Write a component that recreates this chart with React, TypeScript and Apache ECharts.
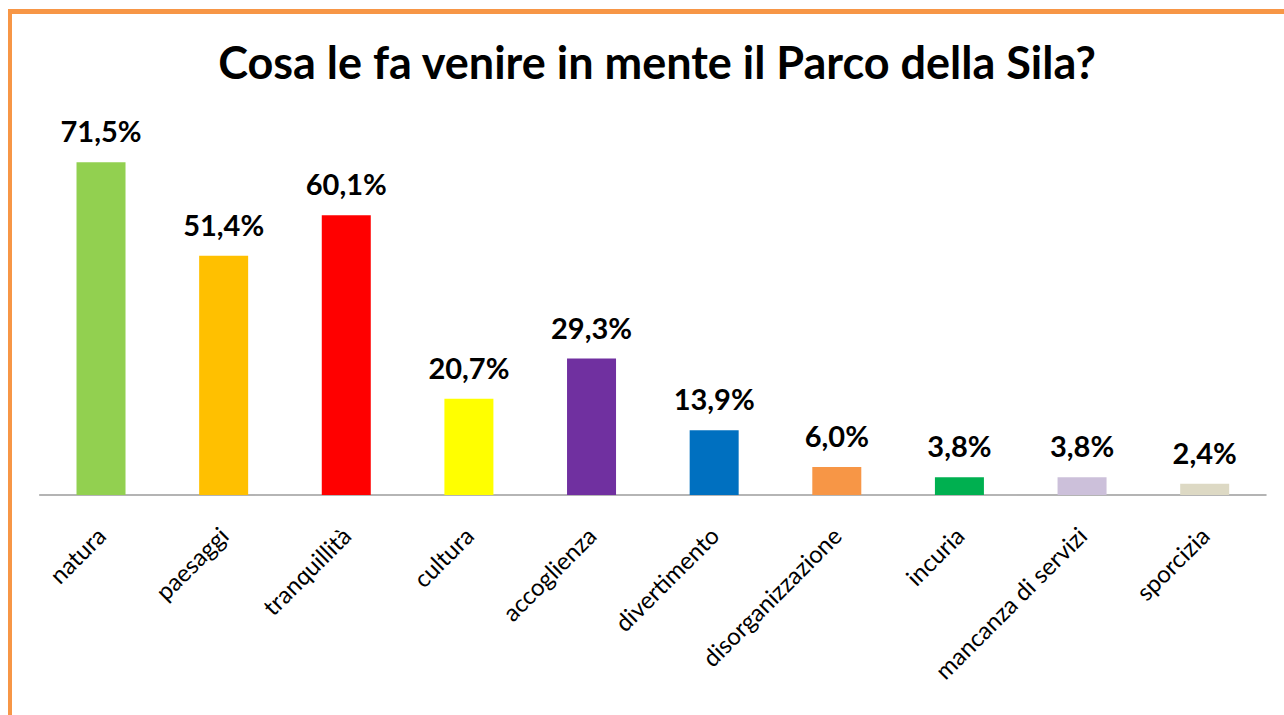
import React, { useEffect, useRef } from "react";
import * as echarts from "echarts";

const categories = [
  "natura",
  "paesaggi",
  "tranquillità",
  "cultura",
  "accoglienza",
  "divertimento",
  "disorganizzazione",
  "incuria",
  "mancanza di servizi",
  "sporcizia",
];
const values = [71.5, 51.4, 60.1, 20.7, 29.3, 13.9, 6.0, 3.8, 3.8, 2.4];
const barColors = [
  "#92D050",
  "#FFC000",
  "#FF0000",
  "#FFFF00",
  "#7030A0",
  "#0070C0",
  "#F79646",
  "#00B050",
  "#CCC0DA",
  "#DDD9C4",
];
const titleText = "Cosa le fa venire in mente il Parco della Sila?";

const FONT = "Lato, 'Open Sans', sans-serif";

export default function App() {
  const ref = useRef<HTMLDivElement>(null);
  useEffect(() => {
    if (!ref.current) return;
    const chart = echarts.init(ref.current, null, { renderer: "svg" });
    chart.setOption({
      animation: false,
      backgroundColor: "#ffffff",
      title: {
        text: titleText,
        left: 652,
        textAlign: "center",
        top: 34,
        textStyle: { fontFamily: FONT, fontSize: 45, fontWeight: "bold", color: "#000" },
      },
      graphic: [
        { type: "rect", shape: { x: 8, y: 9, width: 1276, height: 5 }, style: { fill: "#F79646" } },
        { type: "rect", shape: { x: 8, y: 9, width: 4, height: 706 }, style: { fill: "#F79646" } },
      ],
      grid: { left: 39.7, right: 18, top: 122.6, bottom: 220, containLabel: false },
      xAxis: {
        type: "category",
        data: categories,
        axisLine: { show: true, lineStyle: { color: "#9c9c9c", width: 1.5 } },
        axisTick: { show: false },
        axisLabel: {
          rotate: 45,
          margin: 36,
          interval: 0,
          fontFamily: FONT,
          fontSize: 24,
          color: "#000",
        },
      },
      yAxis: {
        type: "value",
        min: 0,
        max: 80,
        show: false,
        splitLine: { show: false },
      },
      series: [
        {
          type: "bar",
          data: values.map((v, i) => ({ value: v, itemStyle: { color: barColors[i] } })),
          barWidth: 49,
          label: {
            show: true,
            position: "top",
            distance: 17,
            fontFamily: FONT,
            fontSize: 29,
            fontWeight: "bold",
            color: "#000",
            formatter: (p: any) => p.value.toFixed(1).replace(".", ",") + "%",
          },
        },
      ],
    });
    return () => chart.dispose();
  }, []);
  return (
    <div
      ref={ref}
      style={{ position: "fixed", left: 0, top: 0, width: 1284, height: 715 }}
    />
  );
}
